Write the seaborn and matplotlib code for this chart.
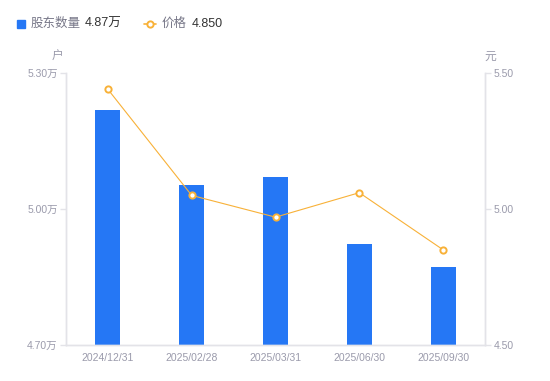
import matplotlib
matplotlib.use("Agg")
import matplotlib.pyplot as plt
from matplotlib.lines import Line2D
import seaborn as sns
import pandas as pd

# data
dates = ["2024/12/31", "2025/02/28", "2025/03/31", "2025/06/30", "2025/09/30"]
holders = [5.218, 5.053, 5.071, 4.923, 4.872]   # 万户
price = [5.44, 5.05, 4.97, 5.06, 4.85]          # 元

holder_ticks = [4.70, 5.00, 5.30]
price_ticks = [4.50, 5.00, 5.50]

BLUE = "#2577f5"
ORANGE = "#f8b138"
TICK = "#9a9aab"
SPINE = "#e3e3e8"

sns.set_theme(style="white")
plt.rcParams["font.family"] = ["Liberation Sans", "Noto Sans CJK SC", "DejaVu Sans"]

df = pd.DataFrame({"date": dates, "holders": holders, "price": price})

fig = plt.figure(figsize=(5.5, 3.81), dpi=100)
ax = fig.add_axes([66 / 550, 1 - 345 / 381, (485 - 66) / 550, (345 - 73) / 381])

sns.barplot(data=df, x="date", y="holders", color=BLUE, width=0.3,
            saturation=1, linewidth=0, ax=ax)
ax.set_ylim(4.70, 5.30)
ax.set_xlim(-0.5, 4.5)
ax.set_yticks(holder_ticks)
ax.set_yticklabels(["%.2f万" % v for v in holder_ticks])
ax.set_xlabel("")
ax.set_ylabel("")

ax2 = ax.twinx()
sns.pointplot(data=df, x="date", y="price", color=ORANGE, markers="o",
              linewidth=0.8, markersize=4.5, markerfacecolor="white",
              markeredgewidth=1.4, markeredgecolor=ORANGE, ax=ax2)
ax2.set_ylim(4.50, 5.50)
ax2.set_xlim(-0.5, 4.5)
ax2.set_yticks(price_ticks)
ax2.set_yticklabels(["%.2f" % v for v in price_ticks])
ax2.set_xlabel("")
ax2.set_ylabel("")

for a in (ax, ax2):
    for s in a.spines.values():
        s.set_color(SPINE)
        s.set_linewidth(1)
    a.spines["top"].set_visible(False)
    a.tick_params(axis="both", colors=SPINE, labelcolor=TICK, labelsize=7.5)
    a.grid(False)
ax.tick_params(axis="y", which="major", length=4, width=1, pad=2, direction="out")
ax.tick_params(axis="x", length=0, pad=6)
ax2.tick_params(axis="y", which="major", length=4, width=1, pad=2, direction="out")

# unit labels
fig.text(58 / 550, 1 - 57 / 381, "户", color=TICK, fontsize=8.5, ha="center", va="center")
fig.text(490 / 550, 1 - 57 / 381, "元", color=TICK, fontsize=8.5, ha="center", va="center")

# legend row
ly = 1 - 24 / 381
fig.add_artist(Line2D([21 / 550], [ly], marker="s", markersize=6.3, color=BLUE,
                      linestyle="none", transform=fig.transFigure))
fig.text(31 / 550, ly, "股东数量", color="#777788", fontsize=9, va="center")
fig.text(85 / 550, ly, "4.87万", color="#333333", fontsize=9, va="center")
fig.add_artist(Line2D([144 / 550, 156 / 550], [ly, ly], color=ORANGE, linewidth=1.2,
                      transform=fig.transFigure))
fig.add_artist(Line2D([150 / 550], [ly], marker="o", markersize=4.5, color=ORANGE,
                      markerfacecolor="white", markeredgewidth=1.4, linestyle="none",
                      transform=fig.transFigure))
fig.text(162 / 550, ly, "价格", color="#777788", fontsize=9, va="center")
fig.text(192 / 550, ly, "4.850", color="#333333", fontsize=9, va="center")

fig.savefig("out.png", dpi=100)
